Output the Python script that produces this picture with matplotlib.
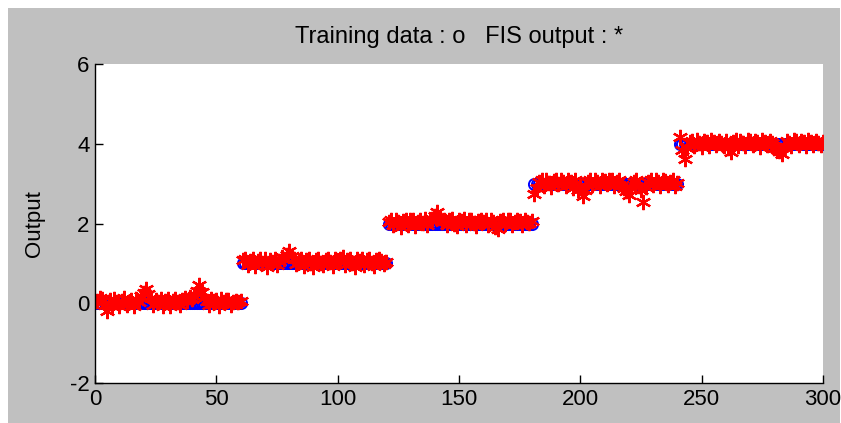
import matplotlib
matplotlib.use("Agg")
import matplotlib.pyplot as plt
from matplotlib.patches import Rectangle

# ---- data ----
x_index = list(range(1, 301))

train_y = [
    0, 0, 0, 0, 0, 0, 0, 0, 0, 0, 0, 0, 0, 0, 0, 0, 0, 0, 0, 0,
    0, 0, 0, 0, 0, 0, 0, 0, 0, 0, 0, 0, 0, 0, 0, 0, 0, 0, 0, 0,
    0, 0, 0, 0, 0, 0, 0, 0, 0, 0, 0, 0, 0, 0, 0, 0, 0, 0, 0, 0,
    1, 1, 1, 1, 1, 1, 1, 1, 1, 1, 1, 1, 1, 1, 1, 1, 1, 1, 1, 1,
    1, 1, 1, 1, 1, 1, 1, 1, 1, 1, 1, 1, 1, 1, 1, 1, 1, 1, 1, 1,
    1, 1, 1, 1, 1, 1, 1, 1, 1, 1, 1, 1, 1, 1, 1, 1, 1, 1, 1, 1,
    2, 2, 2, 2, 2, 2, 2, 2, 2, 2, 2, 2, 2, 2, 2, 2, 2, 2, 2, 2,
    2, 2, 2, 2, 2, 2, 2, 2, 2, 2, 2, 2, 2, 2, 2, 2, 2, 2, 2, 2,
    2, 2, 2, 2, 2, 2, 2, 2, 2, 2, 2, 2, 2, 2, 2, 2, 2, 2, 2, 2,
    3, 3, 3, 3, 3, 3, 3, 3, 3, 3, 3, 3, 3, 3, 3, 3, 3, 3, 3, 3,
    3, 3, 3, 3, 3, 3, 3, 3, 3, 3, 3, 3, 3, 3, 3, 3, 3, 3, 3, 3,
    3, 3, 3, 3, 3, 3, 3, 3, 3, 3, 3, 3, 3, 3, 3, 3, 3, 3, 3, 3,
    4, 4, 4, 4, 4, 4, 4, 4, 4, 4, 4, 4, 4, 4, 4, 4, 4, 4, 4, 4,
    4, 4, 4, 4, 4, 4, 4, 4, 4, 4, 4, 4, 4, 4, 4, 4, 4, 4, 4, 4,
    4, 4, 4, 4, 4, 4, 4, 4, 4, 4, 4, 4, 4, 4, 4, 4, 4, 4, 4, 4,
]

fis_y = [
    0.05, 0.12, 0.10, -0.05, -0.20, 0.08, -0.06, 0.10, 0.02, -0.08, 0.06, 0.12, -0.04, 0.03, 0.09, -0.07, 0.10, 0.04, 0.18, 0.25,
    0.35, 0.22, 0.12, -0.05, 0.08, 0.02, 0.10, -0.06, 0.05, 0.11, -0.08, 0.06, 0.10, 0.02, -0.05, 0.08, 0.12, 0.05, 0.15, 0.10,
    0.18, 0.30, 0.45, 0.28, 0.12, 0.05, -0.04, 0.10, 0.06, 0.08, -0.07, 0.10, 0.03, 0.07, 0.09, -0.05, 0.04, 0.06, 0.02, 0.05,
    1.08, 1.10, 0.95, 1.05, 1.12, 0.93, 1.06, 1.10, 1.00, 1.12, 0.92, 1.08, 1.04, 1.10, 0.95, 1.07, 1.15, 1.12, 1.20, 1.32,
    1.18, 1.10, 0.98, 1.05, 1.12, 0.94, 1.08, 1.10, 1.02, 0.92, 1.09, 1.12, 1.00, 0.95, 1.08, 1.10, 1.04, 0.93, 1.12, 1.06,
    1.10, 1.15, 0.95, 1.08, 1.12, 1.00, 0.92, 1.10, 1.05, 1.12, 0.96, 1.08, 1.10, 1.02, 0.94, 1.08, 1.10, 1.05, 0.98, 1.04,
    2.05, 2.08, 1.95, 2.10, 2.04, 1.90, 2.06, 2.10, 1.97, 2.08, 2.10, 1.93, 2.05, 2.10, 2.02, 2.12, 1.96, 2.08, 2.12, 2.18,
    2.30, 2.15, 2.04, 2.10, 1.95, 2.08, 2.12, 2.00, 1.94, 2.10, 2.06, 2.12, 1.96, 2.08, 2.10, 2.02, 1.93, 2.07, 2.10, 2.05,
    2.10, 1.95, 2.08, 2.04, 1.90, 1.85, 2.06, 2.10, 1.98, 2.08, 2.10, 1.95, 2.04, 2.10, 2.06, 1.97, 2.08, 2.05, 2.02, 2.07,
    2.75, 2.90, 3.05, 3.08, 2.95, 3.10, 3.02, 2.92, 3.06, 3.10, 2.98, 3.08, 3.04, 2.94, 3.10, 3.05, 2.90, 3.08, 2.85, 2.95,
    2.68, 2.85, 3.05, 3.10, 2.96, 3.08, 3.04, 2.94, 3.10, 3.06, 2.98, 3.08, 3.10, 2.93, 3.05, 3.08, 2.96, 2.90, 2.82, 2.72,
    2.90, 3.05, 3.08, 2.95, 2.85, 2.55, 2.92, 3.05, 3.10, 2.96, 3.08, 3.04, 2.93, 3.10, 3.06, 2.97, 3.05, 3.08, 2.95, 3.02,
    4.18, 3.85, 3.62, 3.90, 4.05, 4.08, 3.95, 4.10, 4.02, 3.93, 4.08, 4.05, 3.95, 4.10, 4.04, 3.96, 4.08, 4.02, 3.94, 4.06,
    3.90, 3.80, 4.05, 4.10, 3.95, 4.08, 4.02, 3.94, 4.10, 4.06, 3.97, 4.08, 4.04, 3.93, 4.10, 4.05, 3.96, 4.08, 4.02, 3.90,
    3.88, 3.82, 3.75, 3.95, 4.08, 4.02, 3.94, 4.10, 4.06, 3.96, 4.08, 4.04, 3.95, 4.10, 4.05, 3.97, 4.08, 4.02, 3.98, 4.04,
]

x_ticks = [0, 50, 100, 150, 200, 250, 300]
y_ticks = [-2, 0, 2, 4, 6]
title_text = "Training data : o   FIS output : *"
y_label = "Output"

# ---- figure ----
plt.rcParams['font.family'] = ['Liberation Sans', 'DejaVu Sans']
plt.rcParams['axes.unicode_minus'] = False
W, H = 841, 423
fig = plt.figure(figsize=(W / 100, H / 100), dpi=100, facecolor='white')
fig.patches.append(Rectangle((8 / W, 0), (840 - 8) / W, (H - 8) / H,
                             transform=fig.transFigure, facecolor='#c0c0c0',
                             edgecolor='none', zorder=-10))

ax = fig.add_axes([95 / W, 1 - 383 / H, (823 - 95) / W, (383 - 64) / H])
ax.set_facecolor('white')

ax.plot(x_index, train_y, linestyle='none', marker='o', markersize=8,
        markerfacecolor='none', markeredgecolor='#0000ff', markeredgewidth=1.4)
ax.plot(x_index, fis_y, linestyle='none', marker=(6, 2, 0), markersize=11,
        markeredgecolor='#ff0000', markerfacecolor='#ff0000', markeredgewidth=1.6)

ax.set_xlim(0, 300)
ax.set_ylim(-2, 6)
ax.set_xticks(x_ticks)
ax.set_yticks(y_ticks)
ax.tick_params(direction='in', length=6, width=1, labelsize=16, colors='black', pad=4)
for s in ['top', 'right']:
    ax.spines[s].set_visible(False)
for s in ['left', 'bottom']:
    ax.spines[s].set_linewidth(1)
    ax.spines[s].set_color('black')

ax.set_ylabel(y_label, fontsize=16, labelpad=18)
ax.set_title(title_text, fontsize=17, pad=15)

fig.savefig('out.png', dpi=100, facecolor=fig.get_facecolor())
